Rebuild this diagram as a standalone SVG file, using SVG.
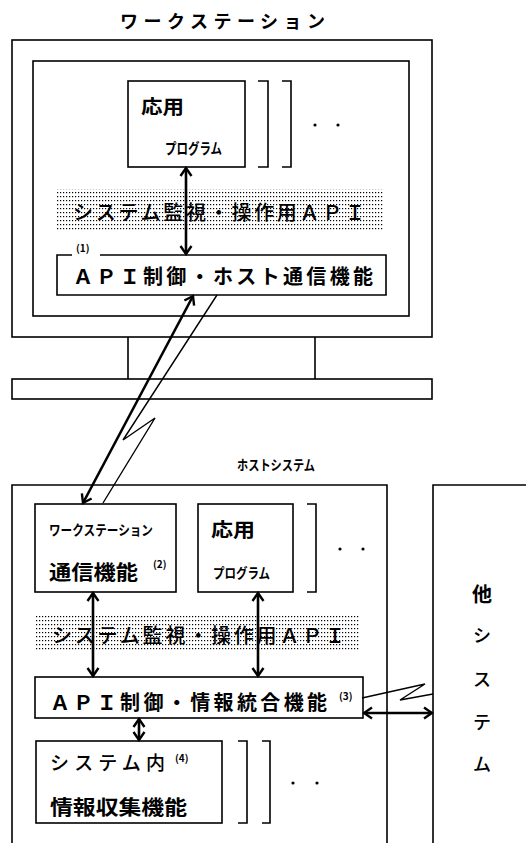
<svg xmlns="http://www.w3.org/2000/svg" width="526" height="843" viewBox="0 0 526 843">
<style>
.box{fill:none;stroke:#000;stroke-width:1.6}
.t{font-family:"Noto Sans CJK JP","Noto Sans",sans-serif;fill:#000}
.b{font-weight:700}
.m{font-weight:500}
.arr{fill:none;stroke:#000;stroke-width:2.6}
.thin{fill:none;stroke:#000;stroke-width:1.4}
</style>
<defs>
<pattern id="dots" width="3" height="4" patternUnits="userSpaceOnUse">
<rect x="0" y="0" width="1.2" height="1.2" fill="#000"/>
</pattern>
<marker id="ah" viewBox="-10 -7 12 14" refX="0" refY="0" markerWidth="12" markerHeight="14" markerUnits="userSpaceOnUse" orient="auto-start-reverse">
<path d="M-8,-5.5 L0,0 L-8,5.5" fill="none" stroke="#000" stroke-width="2.4"/>
</marker>
</defs>
<rect width="526" height="843" fill="#fff"/>

<g id="workstation">
<text class="t b" x="120" y="28" font-size="18" textLength="205" lengthAdjust="spacing">ワークステーション</text>
<rect class="box" x="12" y="40" width="420" height="297"/>
<rect class="box" x="33" y="61" width="376" height="255"/>
<path class="box" d="M128,337 V379 M315,337 V379"/>
<rect class="box" x="12" y="379" width="420" height="20"/>
</g>

<g id="ws-app">
<rect class="box" x="128" y="81" width="117" height="86"/>
<text class="t b" x="141" y="114" font-size="19" textLength="43" lengthAdjust="spacingAndGlyphs">応用</text>
<text class="t b" x="165" y="154" font-size="15" textLength="57" lengthAdjust="spacingAndGlyphs">プログラム</text>
<path class="box" d="M258,81 H268 V167 H258 M282,81 H291 V167 H282"/>
<circle cx="315" cy="125" r="1.6" fill="#000"/>
<circle cx="338" cy="125" r="1.6" fill="#000"/>
</g>

<g id="ws-api-layer">
<rect x="56" y="189" width="327" height="41" fill="url(#dots)"/>
<text class="t m" x="73" y="220" font-size="20" textLength="292" lengthAdjust="spacing">システム監視・操作用ＡＰＩ</text>
</g>

<g id="ws-api-control">
<path class="box" d="M72,255 H57 V295 H386 V255 H100"/>
<text class="t b" x="76" y="252" font-size="10">(1)</text>
<text class="t b" x="73" y="284" font-size="20" textLength="300" lengthAdjust="spacing">ＡＰＩ制御・ホスト通信機能</text>
</g>

<g id="host-label">
<text class="t b" x="237" y="470" font-size="14" textLength="78" lengthAdjust="spacingAndGlyphs">ホストシステム</text>
</g>

<g id="host-system">
<path class="box" d="M12,850 V485 H387 V850"/>
</g>

<g id="other-system">
<path class="box" d="M433,850 V485 H530"/>
<text class="t b" x="482" y="602" font-size="20" text-anchor="middle">他</text>
<text class="t m" x="482" y="642" font-size="18" text-anchor="middle">シ</text>
<text class="t m" x="482" y="686" font-size="18" text-anchor="middle">ス</text>
<text class="t m" x="482" y="729" font-size="18" text-anchor="middle">テ</text>
<text class="t m" x="482" y="771" font-size="18" text-anchor="middle">ム</text>
</g>

<g id="host-ws-comm">
<rect class="box" x="35" y="504" width="141" height="88"/>
<text class="t b" x="49" y="535" font-size="14" textLength="104" lengthAdjust="spacingAndGlyphs">ワークステーション</text>
<text class="t b" x="49" y="580" font-size="20" textLength="89" lengthAdjust="spacingAndGlyphs">通信機能</text>
<text class="t b" x="153" y="568" font-size="10">(2)</text>
</g>

<g id="host-app">
<rect class="box" x="198" y="504" width="95" height="88"/>
<text class="t b" x="211" y="537" font-size="19" textLength="44" lengthAdjust="spacingAndGlyphs">応用</text>
<text class="t b" x="213" y="578" font-size="14" textLength="57" lengthAdjust="spacingAndGlyphs">プログラム</text>
<path class="box" d="M307,504 H316 V592 H307"/>
<circle cx="340" cy="549" r="1.6" fill="#000"/>
<circle cx="363" cy="549" r="1.6" fill="#000"/>
</g>

<g id="host-api-layer">
<rect x="36" y="614" width="324" height="38" fill="url(#dots)"/>
<text class="t m" x="52" y="643" font-size="20" textLength="293" lengthAdjust="spacing">システム監視・操作用ＡＰＩ</text>
</g>

<g id="host-api-control">
<rect class="box" x="35" y="677" width="328" height="41"/>
<text class="t b" x="50" y="710" font-size="20" textLength="277" lengthAdjust="spacing">ＡＰＩ制御・情報統合機能</text>
<text class="t b" x="339" y="700" font-size="10">(3)</text>
</g>

<g id="host-info-collect">
<rect class="box" x="36" y="741" width="186" height="82"/>
<text class="t m" x="50" y="770" font-size="19" textLength="115" lengthAdjust="spacing">システム内</text>
<text class="t b" x="175" y="762" font-size="10">(4)</text>
<text class="t b" x="50" y="815" font-size="20" textLength="137" lengthAdjust="spacingAndGlyphs">情報収集機能</text>
<path class="box" d="M238,741 H247 V823 H238 M262,741 H270 V823 H262"/>
<circle cx="293" cy="783" r="1.6" fill="#000"/>
<circle cx="317" cy="783" r="1.6" fill="#000"/>
</g>

<g id="connectors">
<line class="arr" x1="186" y1="168" x2="186" y2="254" marker-start="url(#ah)" marker-end="url(#ah)"/>
<line class="arr" x1="193" y1="296" x2="83" y2="503" marker-start="url(#ah)" marker-end="url(#ah)"/>
<polyline class="thin" points="217,295 123,440 155,418 103,503"/>
<line class="arr" x1="93" y1="593" x2="93" y2="676" marker-start="url(#ah)" marker-end="url(#ah)"/>
<line class="arr" x1="258" y1="593" x2="258" y2="676" marker-start="url(#ah)" marker-end="url(#ah)"/>
<line class="arr" x1="139" y1="719" x2="139" y2="740" marker-start="url(#ah)" marker-end="url(#ah)"/>
<line class="arr" x1="364" y1="713" x2="432" y2="713" marker-start="url(#ah)" marker-end="url(#ah)"/>
<polyline class="thin" points="362,698 425,684 400,700 433,694"/>
</g>
</svg>
